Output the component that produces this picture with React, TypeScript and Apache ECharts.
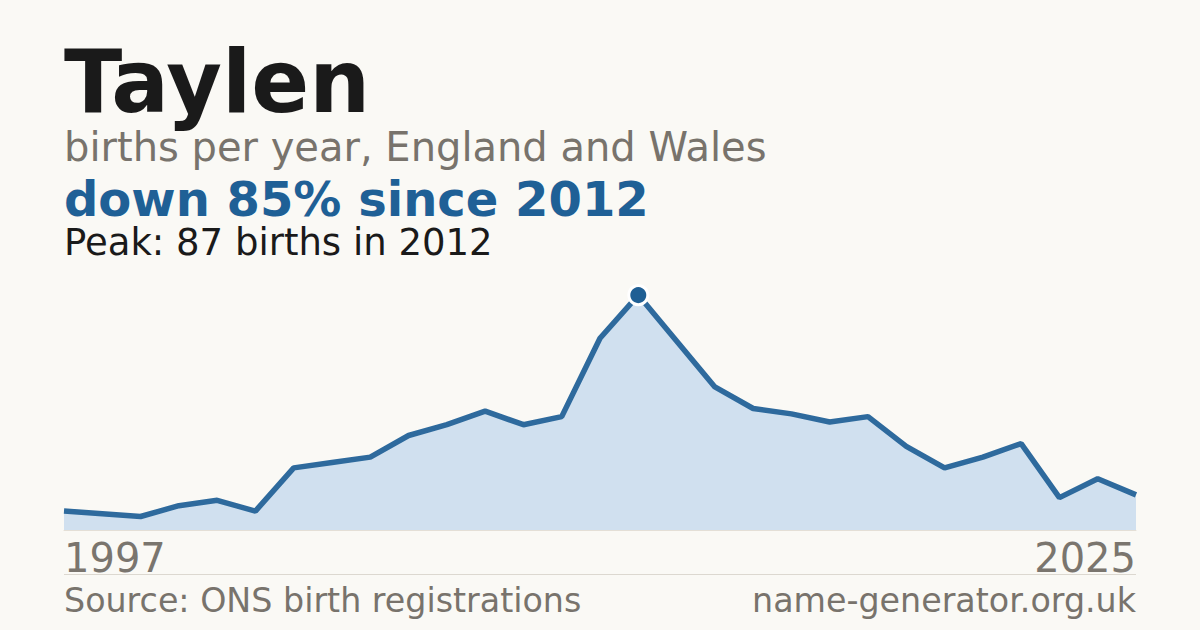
import * as echarts from "echarts";
import React, { useEffect, useRef } from "react";

const years = [
  "1997", "1998", "1999", "2000", "2001", "2002", "2003", "2004", "2005", "2006",
  "2007", "2008", "2009", "2010", "2011", "2012", "2013", "2014", "2015", "2016",
  "2017", "2018", "2019", "2020", "2021", "2022", "2023", "2024", "2025",
];
const births = [
  7, 6, 5, 9, 11, 7, 23, 25, 27, 35,
  39, 44, 39, 42, 71, 87, 70, 53, 45, 43,
  40, 42, 31, 23, 27, 32, 12, 19, 13,
];
const peakIndex = 15;

const title = "Taylen";
const subtitle = "births per year, England and Wales";
const headline = "down 85% since 2012";
const peakNote = "Peak: 87 births in 2012";
const source = "Source: ONS birth registrations";
const site = "name-generator.org.uk";

const FONT = "DejaVu Sans";

const App: React.FC = () => {
  const chartRef = useRef<HTMLDivElement | null>(null);

  useEffect(() => {
    document.body.style.margin = "0";
    const chart = echarts.init(chartRef.current, null, { renderer: "svg" });
    const last = years.length - 1;
    chart.setOption({
      animation: false,
      backgroundColor: "#faf9f5",
      grid: { left: 64, right: 64, top: 260, bottom: 100 },
      xAxis: {
        type: "category",
        data: years,
        boundaryGap: false,
        axisLine: { show: true, lineStyle: { color: "#e4dfd6", width: 1 } },
        axisTick: { show: false },
        axisLabel: {
          interval: (i: number) => i === 0 || i === last,
          fontFamily: FONT,
          fontSize: 40,
          color: "#7a756e",
          margin: 8,
          alignMinLabel: "left",
          alignMaxLabel: "right",
        },
      },
      yAxis: {
        type: "value",
        min: 0,
        max: 100,
        show: false,
        splitLine: { show: false },
      },
      series: [
        {
          type: "line",
          data: births.map((v, i) =>
            i === peakIndex
              ? {
                  value: v,
                  symbol: "circle",
                  symbolSize: 19,
                  itemStyle: { color: "#1f5f94", borderColor: "#ffffff", borderWidth: 3 },
                }
              : { value: v, symbol: "none" }
          ),
          showSymbol: true,
          lineStyle: { color: "#2e6a9d", width: 5.5 },
          areaStyle: { color: "#d0e0ef", opacity: 1 },
          z: 3,
        },
      ],
      graphic: [
        {
          type: "text",
          x: 64,
          y: 37,
          scaleX: 0.971,
          style: { text: title, font: `bold 88px '${FONT}'`, fill: "#1a1a1a" },
        },
        {
          type: "text",
          left: 64,
          top: 127,
          style: { text: subtitle, font: `40px '${FONT}'`, fill: "#78736c" },
        },
        {
          type: "text",
          left: 64,
          top: 175,
          style: { text: headline, font: `bold 48px '${FONT}'`, fill: "#1f6096" },
        },
        {
          type: "text",
          left: 64,
          top: 224,
          style: { text: peakNote, font: `37px '${FONT}'`, fill: "#1a1a1a" },
        },
        {
          type: "line",
          shape: { x1: 64, y1: 574.5, x2: 1136, y2: 574.5 },
          style: { stroke: "#dcd8d0", lineWidth: 1 },
        },
        {
          type: "text",
          left: 64,
          top: 584,
          style: { text: source, font: `33.3px '${FONT}'`, fill: "#78736c" },
        },
        {
          type: "text",
          right: 64,
          top: 584,
          style: { text: site, font: `33.3px '${FONT}'`, fill: "#78736c" },
        },
      ],
    });
    return () => {
      chart.dispose();
    };
  }, []);

  return <div ref={chartRef} style={{ width: "1200px", height: "630px" }}></div>;
};

export default App;
